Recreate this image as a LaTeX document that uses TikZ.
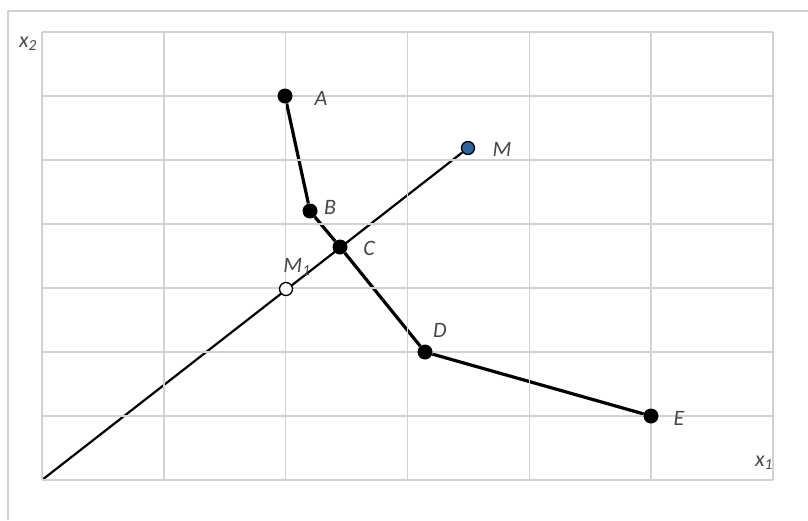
\documentclass[tikz,border=0pt]{standalone}
\usepackage{fontspec}
\setmainfont{Carlito}
\usepackage{tikz}
\usetikzlibrary{backgrounds}
\definecolor{gridgray}{RGB}{210,210,210}
\definecolor{labelgray}{RGB}{72,72,72}
\definecolor{pointblue}{RGB}{46,100,160}

\begin{document}
\begin{tikzpicture}[x=1pt,y=-1pt,
    gridline/.style={draw=gridgray,line width=1.5pt},
    fullpt/.style={circle,fill=black,inner sep=0pt,minimum size=15pt},
    openpt/.style={circle,draw=black,line width=1.3pt,fill=white,inner sep=0pt,minimum size=13pt},
    bluept/.style={circle,draw=black,line width=1.3pt,fill=pointblue,inner sep=0pt,minimum size=13pt},
    lbl/.style={text=labelgray,font=\fontsize{22}{26}\selectfont\itshape,inner sep=0pt}]
      \useasboundingbox (0,0) rectangle (808,520);
      % frame and grid
      \draw[draw=gridgray,line width=1.3pt] (8,520) -- (8,11) -- (808,11);
      \foreach \i in {0,...,6}
        \draw[gridline] ({42+\i*121.83},32) -- ({42+\i*121.83},480);
      \foreach \j in {0,...,7}
        \draw[gridline] (42,{32+\j*64}) -- (773,{32+\j*64});
      % points
      \coordinate (O) at (42,480);
      \node[fullpt] (A) at (285,96) {};
      \node[fullpt] (B) at (310,211) {};
      \node[fullpt] (C) at (340,247) {};
      \node[fullpt] (D) at (425,352) {};
      \node[fullpt] (E) at (651,416) {};
      \node[bluept] (M) at (468,148) {};
      \node[openpt] (M1) at (286,289) {};
      \begin{scope}[on background layer]
        \draw[line width=2.2pt] (O) -- (M);
        \draw[line width=3.2pt] (A) -- (B) -- (C) -- (D) -- (E);
      \end{scope}
      % labels
      \node[lbl] (lA) at (321,98) {A};
      \node[lbl] (lB) at (330,207) {B};
      \node[lbl] (lC) at (369,248) {C};
      \node[lbl] (lD) at (440,330) {D};
      \node[lbl] (lE) at (679,418) {E};
      \node[lbl] (lM) at (502,149) {M};
      \node[lbl] (lM1) at (297,267) {M\textsubscript{1}};
      \node[lbl] (lx1) at (764,463) {x\textsubscript{1}};
      \node[lbl] (lx2) at (28,44) {x\textsubscript{2}};
\end{tikzpicture}
\end{document}
